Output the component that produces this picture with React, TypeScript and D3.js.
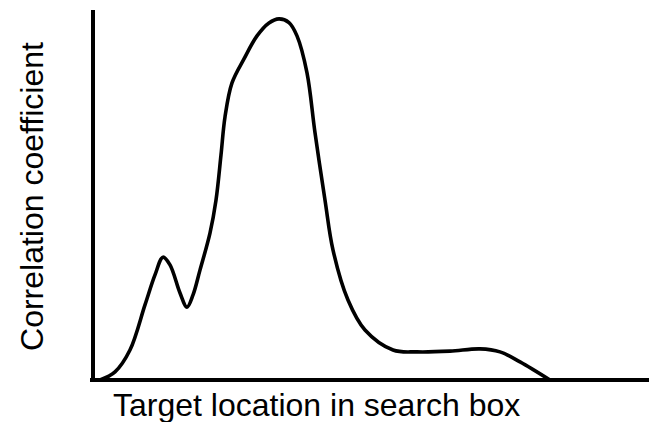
import React from "react";
import * as d3 from "d3";

// Target location (0-100 across the search box) and correlation coefficient (0-1)
const locations = [1.26, 3.96, 6.65, 9.35, 11.15, 12.59, 13.85, 15.65, 16.91, 17.99, 19.24, 21.04, 22.12, 23.02, 23.74, 25.0, 27.16, 29.5, 31.65, 33.45, 35.25, 36.69, 38.49, 39.93, 41.73, 43.17, 45.86, 48.92, 53.96, 58.27, 64.21, 69.6, 73.2, 76.8, 82.19];
const correlations = [0, 0.022, 0.081, 0.203, 0.284, 0.332, 0.311, 0.235, 0.197, 0.23, 0.297, 0.397, 0.486, 0.608, 0.711, 0.803, 0.868, 0.93, 0.965, 0.976, 0.966, 0.93, 0.83, 0.668, 0.486, 0.351, 0.216, 0.135, 0.081, 0.076, 0.078, 0.084, 0.076, 0.049, 0];

const xLabel = "Target location in search box";
const yLabel = "Correlation coefficient";

export default function App() {
  const W = 649, H = 422;
  const x = d3.scaleLinear().domain([0, 100]).range([93, 649]);
  const y = d3.scaleLinear().domain([0, 1]).range([380, 10]);
  const pts: [number, number][] = locations.map((l, i) => [l, correlations[i]]);
  const line = d3
    .line<[number, number]>()
    .x((d) => x(d[0]))
    .y((d) => y(d[1]))
    .curve(d3.curveCatmullRom.alpha(0.5));
  const font = "'Liberation Sans', Arial, sans-serif";
  return (
    <svg width={W} height={H} style={{ position: "absolute", left: 0, top: 0, background: "#fff" }}>
      <rect width={W} height={H} fill="#fff" />
      <line x1={x(0)} x2={x(0)} y1={y(1)} y2={y(0) + 2} stroke="#000" strokeWidth={4} />
      <line x1={x(0) - 3} x2={x(100)} y1={y(0)} y2={y(0)} stroke="#000" strokeWidth={4} />
      <path d={line(pts) || ""} fill="none" stroke="#000" strokeWidth={3.6} strokeLinejoin="round" strokeLinecap="round" />
      <text x={113} y={416} fontFamily={font} fontSize={32} fill="#000">{xLabel}</text>
      <text transform="translate(43,196.5) rotate(-90)" textAnchor="middle" fontFamily={font} fontSize={32} fill="#000">{yLabel}</text>
    </svg>
  );
}
